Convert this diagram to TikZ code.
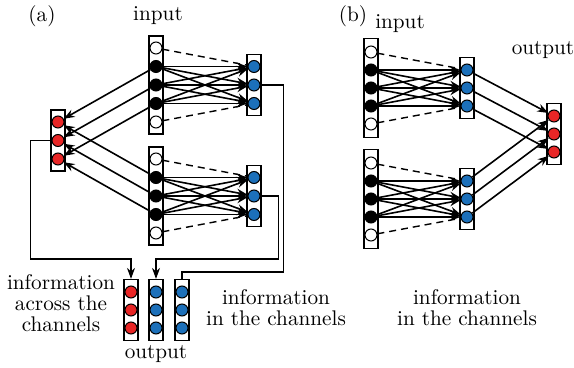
\documentclass[tikz,border=0pt]{standalone}
\usetikzlibrary{arrows.meta}
\definecolor{nblue}{RGB}{28,112,186}
\definecolor{nred}{RGB}{232,38,38}
\begin{document}
\begin{tikzpicture}[x=0.5pt,y=-0.5pt,font=\fontsize{10.6}{10.5}\selectfont,
  col/.style={draw,rectangle,minimum width=7pt,inner sep=0pt,line width=0.6pt},
  unit/.style={draw,circle,minimum size=6pt,inner sep=0pt,line width=0.5pt},
  link/.style={line width=0.8pt,-{Stealth[length=5.5pt,width=4pt]}},
  skip/.style={line width=0.7pt,dash pattern=on 3.5pt off 2.5pt},
  wire/.style={line width=0.7pt}]
  \useasboundingbox (0,0) rectangle (574,368);

  % (a) two input blocks, red merge column and three output columns
  \node (laba) at (42,16) {(a)};
  \node (ina) at (158,16) {input};
  \node[col,minimum height=49pt] (tina) at (156,85) {};
  \node[col,minimum height=49pt] (bina) at (156,196) {};
  \node[col,minimum height=30.5pt] (touta) at (254,85) {};
  \node[col,minimum height=30.5pt] (bouta) at (254,196) {};
  \node[col,minimum height=30.5pt] (reda) at (58,140.5) {};
  \foreach \i/\c in {1/white,2/black,3/black,4/black,5/white}{
    \node[unit,fill=\c] (ta\i) at (156,{48+18.5*(\i-1)}) {};
    \node[unit,fill=\c] (ba\i) at (156,{159+18.5*(\i-1)}) {};
  }
  \foreach \i in {1,2,3}{
    \node[unit,fill=nblue] (tb\i) at (254,{66.5+18.5*(\i-1)}) {};
    \node[unit,fill=nblue] (bb\i) at (254,{177.5+18.5*(\i-1)}) {};
    \node[unit,fill=nred] (ra\i) at (58,{122+18.5*(\i-1)}) {};
  }
  \foreach \i in {2,3,4}
    \foreach \j in {1,2,3}{
      \draw[link] (ta\i) -- (tb\j);
      \draw[link] (ba\i) -- (bb\j);
    }
  \draw[skip] (ta1) -- (tb1);
  \draw[skip] (ta5) -- (tb3);
  \draw[skip] (ba1) -- (bb1);
  \draw[skip] (ba5) -- (bb3);
  \foreach \i/\j in {2/1,3/2,4/3}{
    \draw[link] (ta\i) -- (ra\j);
    \draw[link] (ba\i) -- (ra\j);
  }

  \node[col,minimum height=30.5pt] (oc1) at (131,310) {};
  \node[col,minimum height=30.5pt] (oc2) at (156,310) {};
  \node[col,minimum height=30.5pt] (oc3) at (182,310) {};
  \foreach \i in {1,2,3}{
    \node[unit,fill=nred] (o1\i) at (131,{292+18*(\i-1)}) {};
    \node[unit,fill=nblue] (o2\i) at (156,{292+18*(\i-1)}) {};
    \node[unit,fill=nblue] (o3\i) at (182,{292+18*(\i-1)}) {};
  }
  \draw[wire,-{Stealth[length=5.5pt,width=4pt]}] (ra2.west) -- ++(-21,0) |- ([yshift=10pt]oc1.north) -- (oc1.north);
  \draw[wire,-{Stealth[length=5.5pt,width=4pt]}] (bb2.east) -- ++(18,0) |- ([yshift=10pt]oc2.north) -- (oc2.north);
  \draw[wire] (tb2.east) -- ++(23,0) |- ([yshift=3.5pt]oc3.north) -- (oc3.north);

  \node[align=center] (acra) at (61,303) {information\\across the\\channels};
  \node[align=center] (ina2) at (276,308) {information\\in the channels};
  \node (outa) at (156,354) {output};

  % (b) two input blocks feeding one red output column
  \node (labb) at (353,16) {(b)};
  \node (inb) at (400,24) {input};
  \node (outb) at (543,50) {output};
  \node[col,minimum height=49.5pt] (tinb) at (371,88) {};
  \node[col,minimum height=49.5pt] (binb) at (371,199) {};
  \node[col,minimum height=30.5pt] (toutb) at (467,88) {};
  \node[col,minimum height=30.5pt] (boutb) at (467,199) {};
  \node[col,minimum height=30.5pt] (redb) at (554,134) {};
  \foreach \i/\c in {1/white,2/black,3/black,4/black,5/white}{
    \node[unit,fill=\c] (tc\i) at (371,{52+18*(\i-1)}) {};
    \node[unit,fill=\c] (bc\i) at (371,{163+18*(\i-1)}) {};
  }
  \foreach \i in {1,2,3}{
    \node[unit,fill=nblue] (td\i) at (467,{70+18*(\i-1)}) {};
    \node[unit,fill=nblue] (bd\i) at (467,{181+18*(\i-1)}) {};
    \node[unit,fill=nred] (rb\i) at (554,{116+18*(\i-1)}) {};
  }
  \foreach \i in {2,3,4}
    \foreach \j in {1,2,3}{
      \draw[link] (tc\i) -- (td\j);
      \draw[link] (bc\i) -- (bd\j);
    }
  \draw[skip] (tc1) -- (td1);
  \draw[skip] (tc5) -- (td3);
  \draw[skip] (bc1) -- (bd1);
  \draw[skip] (bc5) -- (bd3);
  \foreach \i in {1,2,3}{
    \draw[link] (td\i) -- (rb\i);
    \draw[link] (bd\i) -- (rb\i);
  }
  \node[align=center] (inb2) at (467,308) {information\\in the channels};
\end{tikzpicture}
\end{document}
